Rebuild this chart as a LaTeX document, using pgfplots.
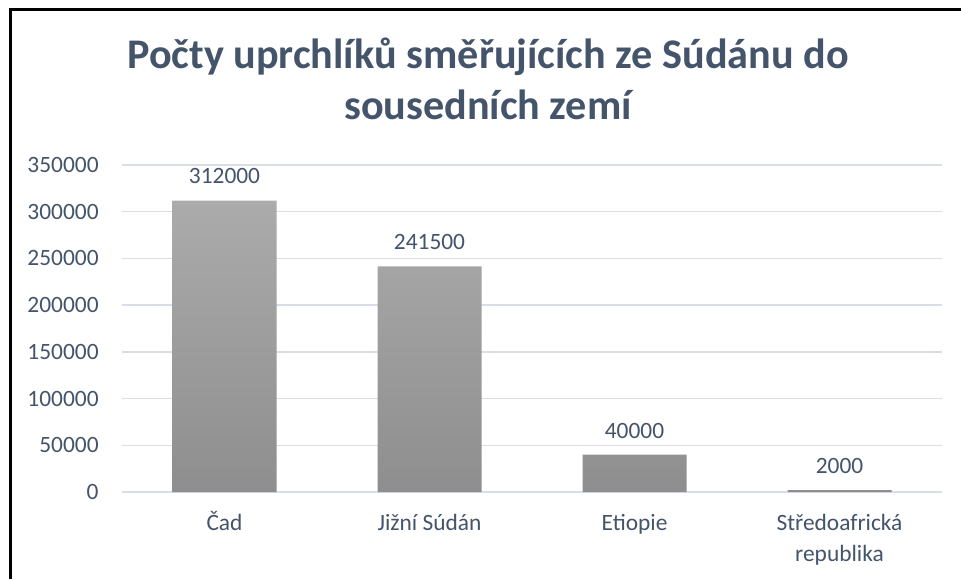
\documentclass[border=0pt]{standalone}
\usepackage{fontspec}
\setmainfont{Carlito}
\usepackage{pgfplots}
\pgfplotsset{compat=1.18}
\definecolor{titlec}{HTML}{44546A}
\definecolor{txtc}{HTML}{44546A}
\definecolor{gridc}{HTML}{D9DEE6}
\definecolor{barTop}{HTML}{ABABAB}
\definecolor{barBot}{HTML}{8E8E8E}
\newcommand{\lbl}{\rule{0pt}{12pt}}
\begin{document}
\begin{tikzpicture}
\useasboundingbox[fill=white] (0,0) rectangle (480.5pt,289.5pt);
% frame (left and top edges are visible)
\draw[line width=1.25pt] (5.25pt,0) -- (5.25pt,284.75pt) -- (480.5pt,284.75pt);
% title (base anchor sits on the last line)
\node[anchor=base, align=center, font=\fontsize{21.1}{25.5}\selectfont\bfseries, text=titlec, inner sep=0pt]
  at (244pt,229.5pt) {Počty uprchlíků směřujících ze Súdánu do\\sousedních zemí};
\begin{axis}[
  at={(61pt,43.5pt)}, anchor=south west,
  scale only axis,
  width=410pt, height=163.5pt,
  xmin=-0.5, xmax=3.5,
  ymin=0, ymax=350000,
  xtick={0,1,2,3},
  xticklabels={\lbl Čad, \lbl Jižní Súdán, \lbl Etiopie, {\lbl Středoafrická\\republika}},
  ytick={0,50000,...,350000},
  scaled y ticks=false,
  /pgf/number format/.cd, fixed, 1000 sep={}, assume math mode=true, /pgfplots/.cd,
  axis line style={draw=none},
  major tick length=0pt,
  ymajorgrids,
  grid style={color=gridc, line width=0.75pt},
  tick label style={font=\fontsize{11.7}{15.5}\selectfont, text=txtc, inner sep=0pt},
  yticklabel style={anchor=east, xshift=-11.5pt},
  xticklabel style={align=center, anchor=north, yshift=-7pt},
  nodes near coords={\pgfmathprintnumber{\pgfplotspointmeta}},
  every node near coord/.append style={font=\fontsize{11.7}{15.5}\selectfont, text=txtc, anchor=south, inner sep=0pt, yshift=8pt},
]
\addplot[ybar, bar width=52pt, bar shift=0pt, draw=none, top color=barTop, bottom color=barBot]
  coordinates {(0,312000) (1,241500) (2,40000) (3,2000)};
\end{axis}
\end{tikzpicture}
\end{document}
